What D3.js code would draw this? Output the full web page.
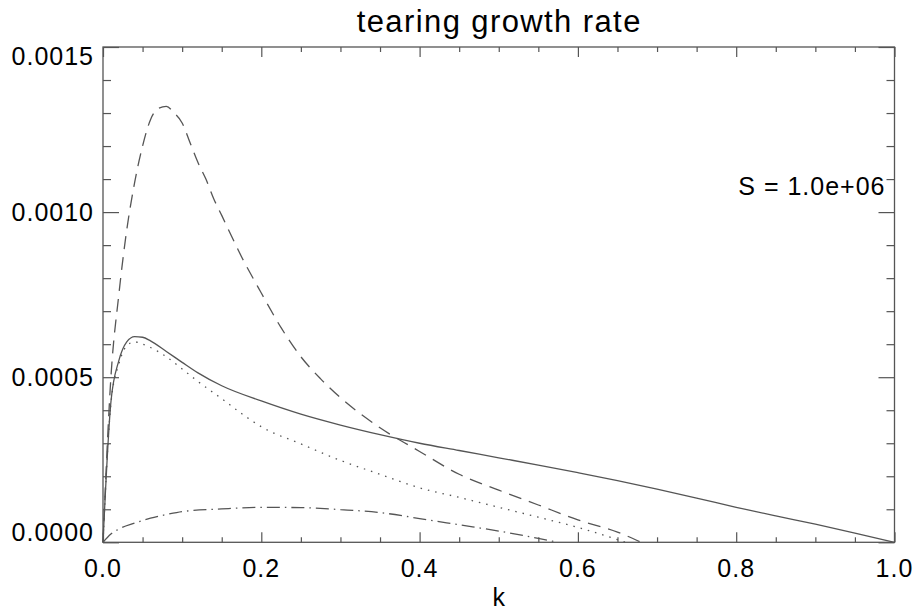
<!DOCTYPE html>
<html>
<head>
<meta charset="utf-8">
<script src="https://cdn.jsdelivr.net/npm/d3@7"></script>
<style>
  body { margin: 0; background: #fff; }
  text { font-family: "Liberation Sans", Arial, sans-serif; fill: #000; }
</style>
</head>
<body>
<div id="chart"></div>
<script>
// values (growth rate vs k)
const kSolid = [0, 0.01, 0.02, 0.03, 0.04, 0.05, 0.06, 0.08, 0.10, 0.12, 0.15, 0.20, 0.25, 0.30, 0.35, 0.40, 0.45, 0.50, 0.55, 0.60, 0.65, 0.70, 0.75, 0.80, 0.85, 0.90, 0.95, 1.0];
const solid = [0, 0.000425, 0.000550, 0.000607, 0.000623, 0.000621, 0.000610, 0.000578, 0.000545, 0.000513, 0.000474, 0.000428, 0.000388, 0.000355, 0.000326, 0.000300, 0.000278, 0.000256, 0.000234, 0.000211, 0.000187, 0.000161, 0.000134, 0.000106, 0.000080, 0.000055, 0.000028, 0];

const kDashed = [0, 0.01, 0.02, 0.03, 0.04, 0.05, 0.06, 0.07, 0.08, 0.09, 0.10, 0.11, 0.12, 0.13, 0.14, 0.15, 0.175, 0.20, 0.225, 0.25, 0.275, 0.30, 0.35, 0.40, 0.45, 0.50, 0.55, 0.60, 0.65, 0.68];
const dashed = [0, 0.00050, 0.00075, 0.000946, 0.00109, 0.00120, 0.00128, 0.001314, 0.00132, 0.00130, 0.00127, 0.00121, 0.00115, 0.00110, 0.00104, 0.00099, 0.000865, 0.000755, 0.00065, 0.000562, 0.000495, 0.000438, 0.000347, 0.000275, 0.000206, 0.000158, 0.000113, 0.000068, 0.000031, 0];

const kDotted = [0, 0.01, 0.02, 0.03, 0.04, 0.05, 0.06, 0.08, 0.10, 0.12, 0.15, 0.175, 0.20, 0.25, 0.30, 0.35, 0.40, 0.45, 0.50, 0.55, 0.60, 0.65, 0.66];
const dotted = [0, 0.00042, 0.00054, 0.000595, 0.000607, 0.000600, 0.000590, 0.000562, 0.000525, 0.000487, 0.000435, 0.000390, 0.000350, 0.000298, 0.000248, 0.000206, 0.000165, 0.000136, 0.000106, 0.000076, 0.000045, 0.000008, 0];

const kDashDot = [0, 0.01, 0.02, 0.04, 0.06, 0.08, 0.10, 0.15, 0.20, 0.25, 0.30, 0.35, 0.40, 0.45, 0.50, 0.55, 0.575];
const dashDot = [0, 0.000025, 0.00004, 0.000058, 0.000073, 0.000084, 0.000093, 0.000101, 0.000106, 0.000105, 0.000099, 0.00009, 0.000072, 0.000053, 0.000034, 0.000012, 0];

const xTicks = [0, 0.2, 0.4, 0.6, 0.8, 1.0];
const yTicks = [0, 0.0005, 0.0010, 0.0015];

const title = 'tearing growth rate';
const xLabel = 'k';
const note = 'S = 1.0e+06';

const width = 915;
const height = 610;
const margin = { top: 47, right: 20.5, bottom: 67.7, left: 103 };

const svg = d3.select('#chart')
  .append('svg')
  .attr('width', width)
  .attr('height', height);

const x = d3.scaleLinear().domain([0, 1]).range([margin.left, width - margin.right]);
const y = d3.scaleLinear().domain([0, 0.0015]).range([height - margin.bottom, margin.top]);

const axisColor = '#555';
const lineColor = '#555';

// plot frame
svg.append('rect')
  .attr('x', x(0)).attr('y', y(0.0015))
  .attr('width', x(1) - x(0)).attr('height', y(0) - y(0.0015))
  .attr('fill', 'none').attr('stroke', axisColor).attr('stroke-width', 1.3);

// ticks on all four sides (major + minor)
const xMinor = d3.range(0, 1.0001, 0.05);
const yMinor = d3.range(0, 0.00150001, 0.0001);

function drawXTicks(yPos, dir) {
  const g = svg.append('g').attr('transform', `translate(0,${yPos})`);
  g.call(d3.axisBottom(x).tickValues(xMinor).tickSize(0).tickFormat(''));
  g.select('.domain').remove();
  g.selectAll('.tick line')
    .attr('stroke', axisColor).attr('stroke-width', 1.2)
    .attr('y2', d => {
      const isMajor = Math.abs(d * 5 - Math.round(d * 5)) < 1e-6;
      return dir * (isMajor ? 10 : 5);
    });
}

function drawYTicks(xPos, dir) {
  const g = svg.append('g').attr('transform', `translate(${xPos},0)`);
  g.call(d3.axisLeft(y).tickValues(yMinor).tickSize(0).tickFormat(''));
  g.select('.domain').remove();
  g.selectAll('.tick line')
    .attr('stroke', axisColor).attr('stroke-width', 1.2)
    .attr('x2', d => {
      const isMajor = Math.abs(d / 0.0005 - Math.round(d / 0.0005)) < 1e-6;
      return dir * (isMajor ? 16 : 8);
    });
}

drawXTicks(y(0), -1);
drawXTicks(y(0.0015), 1);
drawYTicks(x(0), 1);
drawYTicks(x(1), -1);

// tick labels
svg.append('g').selectAll('text')
  .data(xTicks)
  .join('text')
  .attr('x', d => x(d))
  .attr('y', y(0) + 35)
  .attr('text-anchor', 'middle')
  .attr('font-size', 25)
  .attr('letter-spacing', 1)
  .text(d => d.toFixed(1));

svg.append('g').selectAll('text')
  .data(yTicks)
  .join('text')
  .attr('x', x(0) - 9)
  .attr('y', d => y(d))
  .attr('dy', (d, i) => i === 0 ? -1 : (i === yTicks.length - 1 ? 18 : 9))
  .attr('text-anchor', 'end')
  .attr('font-size', 25)
  .attr('letter-spacing', 1)
  .text(d => d.toFixed(4));

// titles
svg.append('text')
  .attr('x', (x(0) + x(1)) / 2 + 0.5)
  .attr('y', 31.5)
  .attr('text-anchor', 'middle')
  .attr('font-size', 31)
  .attr('letter-spacing', 1.4)
  .text(title);

svg.append('text')
  .attr('x', (x(0) + x(1)) / 2)
  .attr('y', 606)
  .attr('text-anchor', 'middle')
  .attr('font-size', 25)
  .text(xLabel);

svg.append('text')
  .attr('x', x(1) - 9)
  .attr('y', 195)
  .attr('text-anchor', 'end')
  .attr('font-size', 25)
  .attr('letter-spacing', 1)
  .text(note);

// curves
const line = d3.line()
  .x(d => x(d[0]))
  .y(d => y(d[1]))
  .curve(d3.curveMonotoneX);

const series = [
  { k: kSolid, v: solid, dash: null },
  { k: kDashed, v: dashed, dash: '13,8' },
  { k: kDotted, v: dotted, dash: '1.5,6' },
  { k: kDashDot, v: dashDot, dash: '13,5,1.5,5' }
];

svg.append('g').selectAll('path')
  .data(series)
  .join('path')
  .attr('d', s => line(d3.zip(s.k, s.v)))
  .attr('fill', 'none')
  .attr('stroke', lineColor)
  .attr('stroke-width', 1.3)
  .attr('stroke-dasharray', s => s.dash);
</script>
</body>
</html>
